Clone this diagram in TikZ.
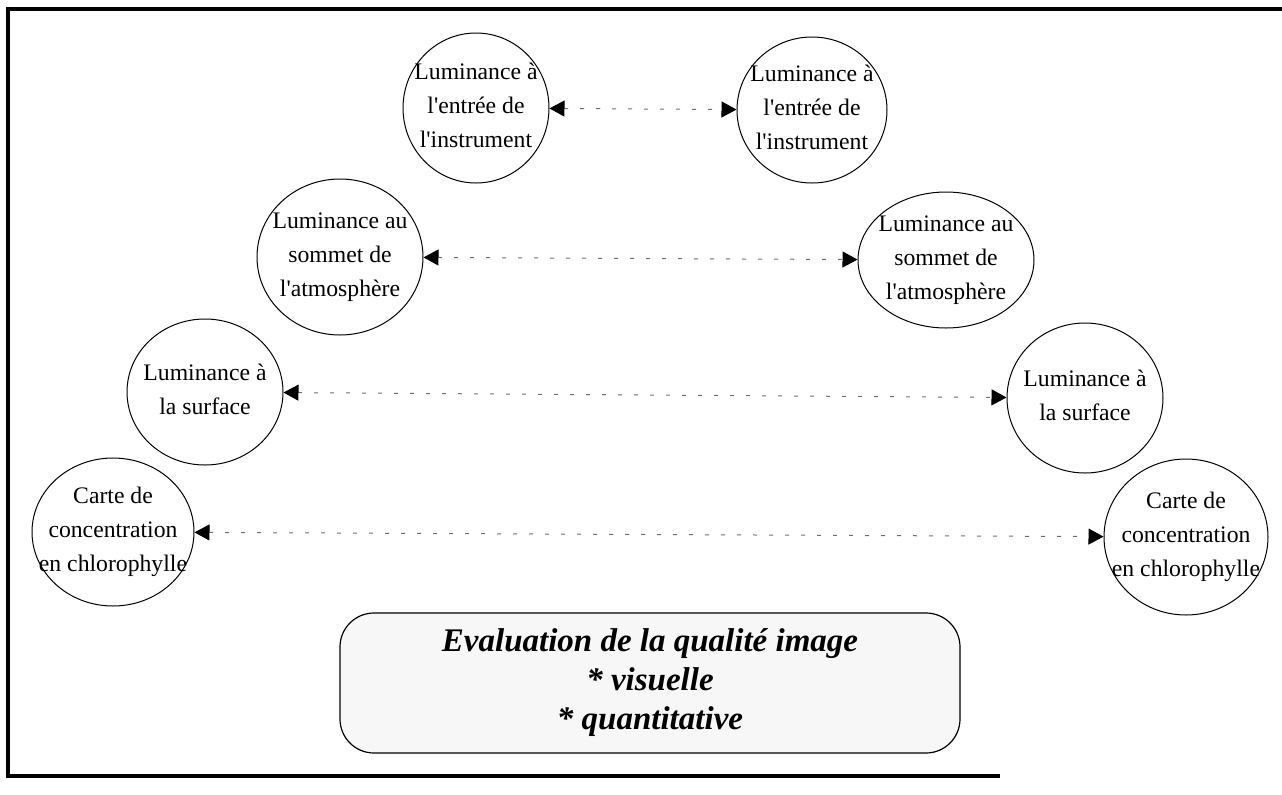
\documentclass[tikz,border=0pt]{standalone}
\usepackage{fontspec}
\setmainfont{Liberation Serif}
\usetikzlibrary{arrows.meta,shapes.geometric}
\definecolor{framedark}{RGB}{0,0,0}
\definecolor{linkgray}{RGB}{110,110,110}
\colorlet{boxbg}{black!3}
\newcommand{\apos}{\textquotesingle}
\newcommand{\inside}[1]{\smash{\makebox[0pt]{\raisebox{-2.5pt}{\begin{tabular}{@{}c@{}}#1\end{tabular}}}}}

\begin{document}
\begin{tikzpicture}[x=.5pt,y=-.5pt,every node/.style={font=\fontsize{11.85}{17}\selectfont},
    bubble/.style 2 args={draw,ellipse,inner sep=0pt,line width=.5pt,minimum width=#1pt,minimum height=#2pt},
    link/.style={linkgray,line width=.5pt,dash pattern=on 2pt off 6pt,{Triangle[length=7.5pt,width=8pt,black]}-{Triangle[length=7.5pt,width=8pt,black]}},
    evalbox/.style={draw,line width=.6pt,fill=boxbg,rounded corners=17pt,minimum width=310pt,minimum height=70pt,align=center,font=\fontsize{16.5}{19.5}\selectfont\bfseries\itshape}]
  \useasboundingbox (0,0) rectangle (1282,794);
  \draw[framedark,line width=2pt] (1282,9) -- (8,9) -- (8,776) -- (1000,776);
  \node[bubble={73}{75}] (ent1) at (476,108) {\inside{Luminance à\\l\apos entrée de\\l\apos instrument}};
  \node[bubble={75}{73}] (ent2) at (812,110) {\inside{Luminance à\\l\apos entrée de\\l\apos instrument}};
  \node[bubble={83}{78}] (toa1) at (340,257) {\inside{Luminance au\\sommet de\\l\apos atmosphère}};
  \node[bubble={88}{68}] (toa2) at (946,260) {\inside{Luminance au\\sommet de\\l\apos atmosphère}};
  \node[bubble={78}{73}] (surf1) at (205,392) {\inside{Luminance à\\la surface}};
  \node[bubble={78}{75}] (surf2) at (1085,398) {\inside{Luminance à\\la surface}};
  \node[bubble={81}{74}] (chl1) at (113,532) {\inside{Carte de\\concentration\\en chlorophylle}};
  \node[bubble={82}{78}] (chl2) at (1186,537) {\inside{Carte de\\concentration\\en chlorophylle}};
  \draw[link] (ent1) -- (ent2);
  \draw[link] (toa1) -- (toa2);
  \draw[link] (surf1) -- (surf2);
  \draw[link] (chl1) -- (chl2);
  \node[evalbox] (eval) at (650,683) {Evaluation de la qualité image\\* visuelle\\* quantitative};
\end{tikzpicture}
\end{document}
